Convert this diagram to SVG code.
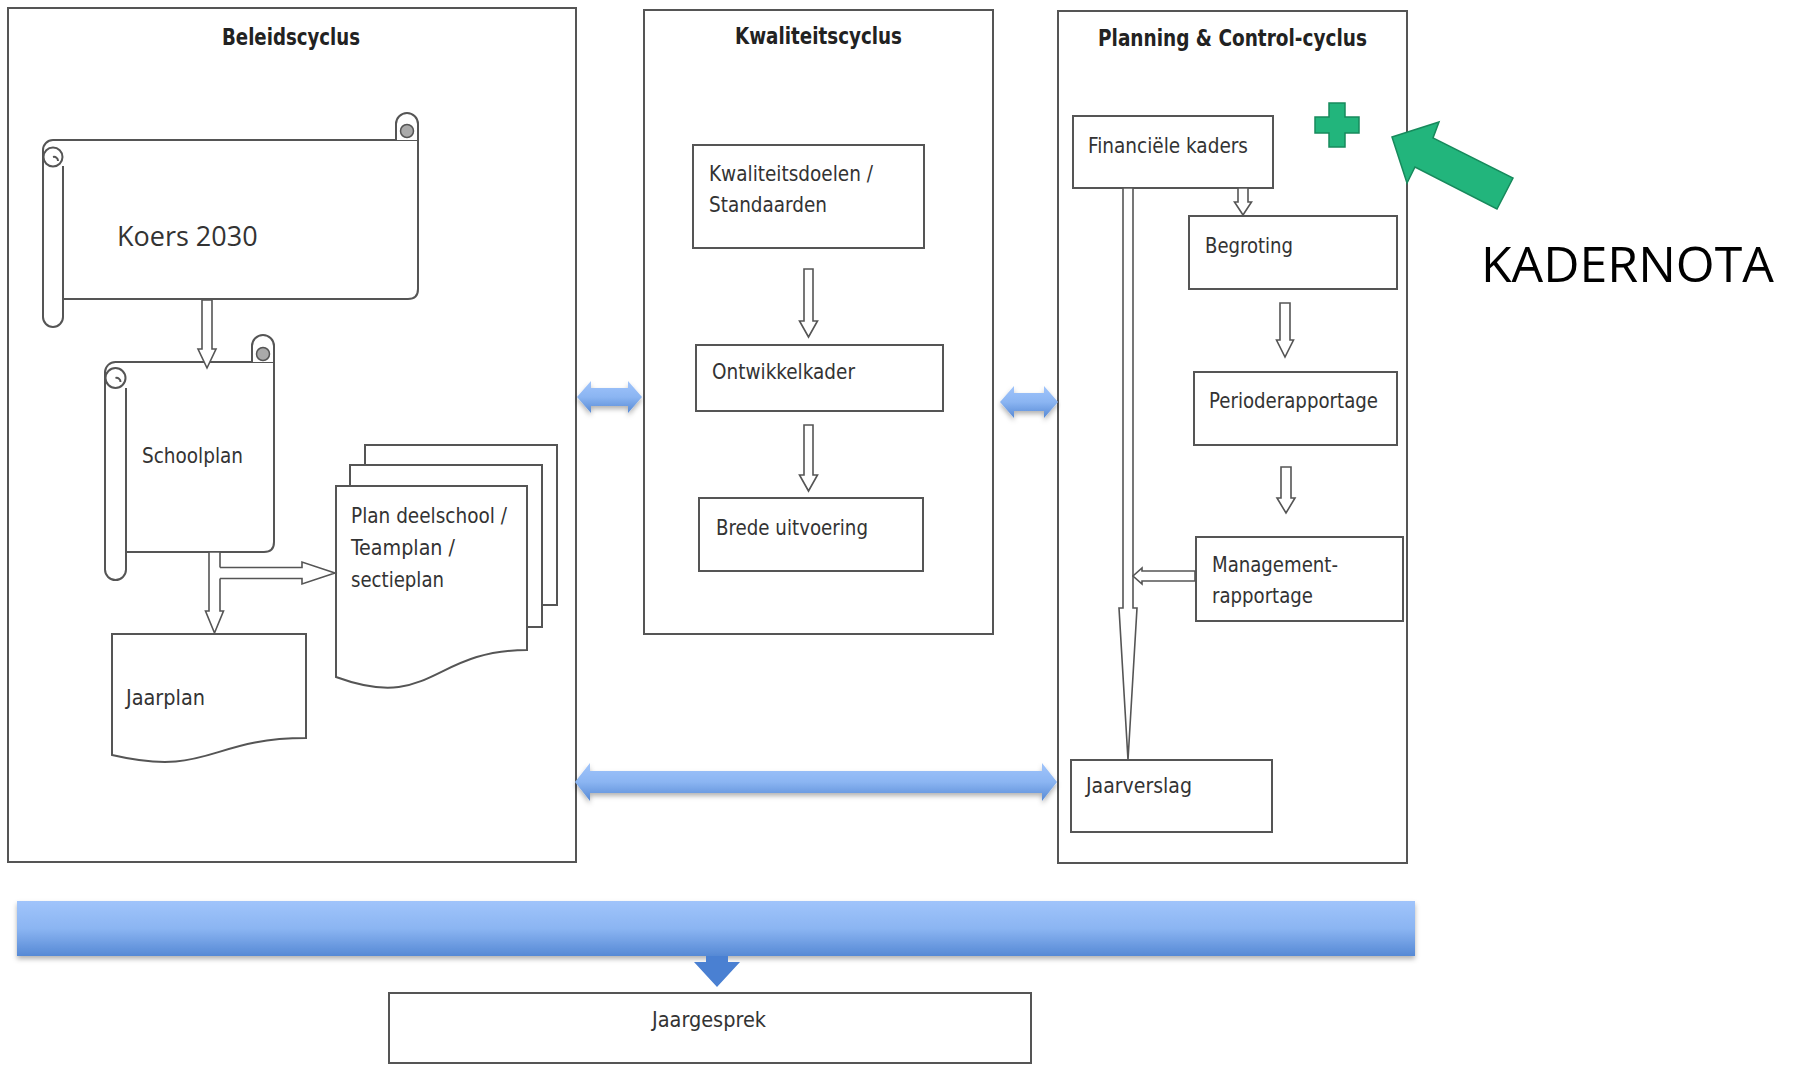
<svg xmlns="http://www.w3.org/2000/svg" width="1800" height="1065" viewBox="0 0 1800 1065">
<defs>
<linearGradient id="blue" x1="0" y1="0" x2="0" y2="1">
<stop offset="0" stop-color="#a0c4fb"/>
<stop offset="0.5" stop-color="#8bb5f2"/>
<stop offset="1" stop-color="#5689d5"/>
</linearGradient>
<filter id="sh" x="-5%" y="-20%" width="110%" height="160%">
<feDropShadow dx="0" dy="3" stdDeviation="2.5" flood-color="#000" flood-opacity="0.3"/>
</filter>
<style>
.box{fill:#fff;stroke:#555;stroke-width:2}
.ln{fill:none;stroke:#555;stroke-width:2}
.wf{fill:#fff;stroke:none}
.ha{fill:#fff;stroke:#555;stroke-width:1.6;stroke-linejoin:miter}
.hs{fill:none;stroke:#555;stroke-width:1.6}
.ba{fill:url(#blue);filter:url(#sh)}
.lbl{font-family:"DejaVu Sans Condensed","DejaVu Sans",sans-serif;font-stretch:condensed;font-size:22px;fill:#333}
.ttl{font-family:"DejaVu Sans Condensed","DejaVu Sans",sans-serif;font-stretch:condensed;font-size:23px;font-weight:bold;fill:#222}
.os{font-family:"Open Sans","Noto Sans",sans-serif}
</style>
</defs>
<rect x="0" y="0" width="1800" height="1065" fill="#fff"/>

<g id="beleidscyclus">
<rect class="box" x="8" y="8" width="568" height="854"/>
<text class="ttl" x="222" y="45" textLength="138" lengthAdjust="spacingAndGlyphs">Beleidscyclus</text>
</g>
<g id="kwaliteitscyclus">
<rect class="box" x="644" y="10" width="349" height="624"/>
<text class="ttl" x="735" y="44" textLength="167" lengthAdjust="spacingAndGlyphs">Kwaliteitscyclus</text>
</g>
<g id="planning-control">
<rect class="box" x="1058" y="11" width="349" height="852"/>
<text class="ttl" x="1098" y="46" textLength="269" lengthAdjust="spacingAndGlyphs">Planning &amp; Control-cyclus</text>
</g>

<g id="koers2030">
<path class="wf" d="M53,140 H418 V289 Q418,299 408,299 H63 V327 H43 V150 Z"/>
<path class="ln" d="M43,150 A10,10 0 0 1 53,140 H418 V289 Q418,299 408,299 H63"/>
<path class="ln" d="M63,166 V317 A10,10 0 0 1 43,317 V150"/>
<circle cx="53" cy="157" r="9.5" fill="#fff" stroke="#555" stroke-width="2"/>
<path class="ln" d="M53,157 a4,4 0 0 1 5,4" stroke-width="1.5"/>
<path class="box" d="M396,140 V124 A11,11 0 0 1 418,124 V140"/>
<circle cx="407" cy="131" r="6.5" fill="#aaa" stroke="#555" stroke-width="1.5"/>
<text class="os" x="117" y="246" font-size="27" fill="#333">Koers 2030</text>
</g>

<g id="schoolplan">
<path class="wf" d="M116,362 H274 V542 Q274,552 264,552 H126 V580 H105 V372 Z"/>
<path class="ln" d="M105,372 A10.5,10.5 0 0 1 115.5,362 H274 V542 Q274,552 264,552 H126"/>
<path class="ln" d="M126,388 V569.5 A10.5,10.5 0 0 1 105,569.5 V372"/>
<circle cx="115.5" cy="378" r="10" fill="#fff" stroke="#555" stroke-width="2"/>
<path class="ln" d="M115.5,378 a4,4 0 0 1 5,4" stroke-width="1.5"/>
<path class="box" d="M252,362 V346 A11,11 0 0 1 274,346 V362"/>
<circle cx="263" cy="354" r="6.5" fill="#aaa" stroke="#555" stroke-width="1.5"/>
<text class="lbl" x="142" y="463" textLength="101" lengthAdjust="spacingAndGlyphs">Schoolplan</text>
</g>

<g id="jaarplan">
<path class="box" d="M112,634 H306 V738 C209,738 209,777.5 112,755 Z"/>
<text class="lbl" x="126" y="705" textLength="79" lengthAdjust="spacingAndGlyphs">Jaarplan</text>
</g>

<g id="deelplannen">
<path class="box" d="M365,465 V445 H557 V605 H542"/>
<path class="box" d="M350,486 V465 H542 V627 H527"/>
<path class="box" d="M336,486 H527 V650 C431.5,650 431.5,712 336,677 Z"/>
<text class="lbl" x="351" y="523" textLength="156" lengthAdjust="spacingAndGlyphs">Plan deelschool /</text>
<text class="lbl" x="351" y="555" textLength="104" lengthAdjust="spacingAndGlyphs">Teamplan /</text>
<text class="lbl" x="351" y="587" textLength="93" lengthAdjust="spacingAndGlyphs">sectieplan</text>
</g>

<g id="kwaliteitsdoelen">
<rect class="box" x="693" y="145" width="231" height="103"/>
<text class="lbl" x="709" y="181" textLength="164" lengthAdjust="spacingAndGlyphs">Kwaliteitsdoelen /</text>
<text class="lbl" x="709" y="212" textLength="118" lengthAdjust="spacingAndGlyphs">Standaarden</text>
</g>
<g id="ontwikkelkader">
<rect class="box" x="696" y="345" width="247" height="66"/>
<text class="lbl" x="712" y="379" textLength="143" lengthAdjust="spacingAndGlyphs">Ontwikkelkader</text>
</g>
<g id="brede-uitvoering">
<rect class="box" x="699" y="498" width="224" height="73"/>
<text class="lbl" x="716" y="535" textLength="152" lengthAdjust="spacingAndGlyphs">Brede uitvoering</text>
</g>

<g id="financiele-kaders">
<rect class="box" x="1073" y="116" width="200" height="72"/>
<text class="lbl" x="1088" y="153" textLength="160" lengthAdjust="spacingAndGlyphs">Financiële kaders</text>
</g>
<g id="begroting">
<rect class="box" x="1189" y="216" width="208" height="73"/>
<text class="lbl" x="1205" y="253" textLength="88" lengthAdjust="spacingAndGlyphs">Begroting</text>
</g>
<g id="perioderapportage">
<rect class="box" x="1194" y="372" width="203" height="73"/>
<text class="lbl" x="1209" y="408" textLength="169" lengthAdjust="spacingAndGlyphs">Perioderapportage</text>
</g>
<g id="managementrapportage">
<rect class="box" x="1196" y="537" width="207" height="84"/>
<text class="lbl" x="1212" y="572" textLength="126" lengthAdjust="spacingAndGlyphs">Management-</text>
<text class="lbl" x="1212" y="603" textLength="101" lengthAdjust="spacingAndGlyphs">rapportage</text>
</g>
<g id="jaarverslag">
<rect class="box" x="1071" y="760" width="201" height="72"/>
<text class="lbl" x="1086" y="793" textLength="106" lengthAdjust="spacingAndGlyphs">Jaarverslag</text>
</g>

<g id="jaargesprek">
<rect class="box" x="389" y="993" width="642" height="70"/>
<text class="lbl" x="652" y="1027" textLength="114" lengthAdjust="spacingAndGlyphs">Jaargesprek</text>
</g>

<g id="kadernota">
<path d="M1329,103 H1345 V117 H1359 V133 H1345 V147 H1329 V133 H1315 V117 H1329 Z" fill="#22b57c" stroke="#178a5c" stroke-width="1.5"/>
<polygon points="1392,137 1439,122 1433,138 1513,178 1497,209 1415,167 1407,183" fill="#22b57c" stroke="#178a5c" stroke-width="1.5"/>
<text class="os" x="1481" y="282" font-size="50" fill="#000">KADERNOTA</text>
</g>

<g id="connectors">
<polygon class="ha" points="202,300 212,300 212,349 216,349 207,368 198,349 202,349"/>
<polygon class="ha" points="209,552 220,552 220,611 223.5,611 214.5,633 205.5,611 209,611"/>
<polygon class="wf" points="214,567.5 302,567.5 302,562 335,573 302,584 302,578.5 214,578.5"/>
<polyline class="hs" points="220,567.5 302,567.5 302,562 335,573 302,584 302,578.5 220,578.5"/>

<polygon class="ha" points="804,269 813,269 813,321 817.5,321 808.5,337 799.5,321 804,321"/>
<polygon class="ha" points="804,425 813,425 813,475 817.5,475 808.5,491 799.5,475 804,475"/>

<polygon class="ha" points="1238,188 1248,188 1248,202 1251.5,202 1243,215 1234.5,202 1238,202"/>
<polygon class="ha" points="1280,303 1290,303 1290,340 1293.5,340 1285,357 1276.5,340 1280,340"/>
<polygon class="ha" points="1281,467 1291,467 1291,498 1295,498 1286,513 1277,498 1281,498"/>
<polygon class="ha" points="1123,188 1133,188 1133,608 1137,608 1128,760 1119,608 1123,608"/>
<polygon class="ha" points="1195,571 1142,571 1142,568 1133,576 1142,584 1142,581 1195,581"/>

<polygon class="ba" points="577,397 591,381 591,388 628,388 628,381 642,397 628,413 628,406 591,406 591,413"/>
<polygon class="ba" points="1000,402 1014,386 1014,393 1044,393 1044,386 1058,402 1044,418 1044,411 1014,411 1014,418"/>
<polygon class="ba" points="575,782 590,763 590,771 1042,771 1042,763 1057,782 1042,801 1042,793 590,793 590,801"/>

<rect class="ba" x="17" y="901" width="1398" height="55"/>
<polygon points="706,956 728,956 728,962 740,962 717,987 694,962 706,962" fill="#4a80d2"/>
</g>
</svg>
